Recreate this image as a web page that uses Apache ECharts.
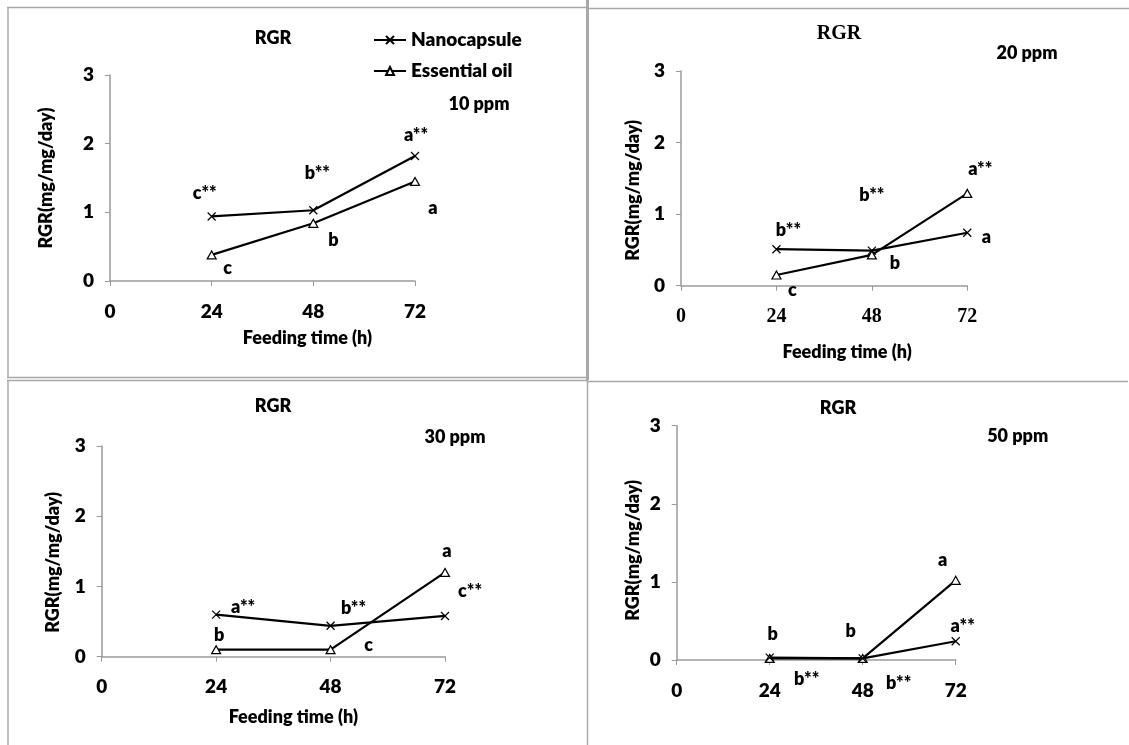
<!DOCTYPE html>
<html>
<head>
<meta charset="utf-8">
<script src="https://cdn.jsdelivr.net/npm/echarts@6/dist/echarts.min.js"></script>
<style>
html,body{margin:0;padding:0;background:#fff;}
#chart{width:1129px;height:745px;}
</style>
</head>
<body>
<div id="chart"></div>
<script>
// ---- data ----
const hours = [24, 48, 72];
const xTicks = [0, 24, 48, 72];
const yTicks = [0, 1, 2, 3];
const seriesNames = ['Nanocapsule', 'Essential oil'];
const panelTitles = ['RGR', 'RGR', 'RGR', 'RGR'];
const doseLabels = ['10 ppm', '20 ppm', '30 ppm', '50 ppm'];
const xAxisTitle = 'Feeding time (h)';
const yAxisTitle = 'RGR(mg/mg/day)';

const nano10 = [0.94, 1.03, 1.82];
const oil10  = [0.38, 0.84, 1.45];
const nano20 = [0.51, 0.49, 0.74];
const oil20  = [0.15, 0.43, 1.29];
const nano30 = [0.60, 0.44, 0.58];
const oil30  = [0.10, 0.10, 1.20];
const nano50 = [0.03, 0.02, 0.24];
const oil50  = [0.02, 0.02, 1.02];

const nano10Letters = ['c**', 'b**', 'a**'];
const oil10Letters  = ['c', 'b', 'a'];
const nano20Letters = ['b**', 'b**', 'a'];
const oil20Letters  = ['c', 'b', 'a**'];
const nano30Letters = ['a**', 'b**', 'c**'];
const oil30Letters  = ['b', 'c', 'a'];
const nano50Letters = ['b**', 'b**', 'a**'];
const oil50Letters  = ['b', 'b', 'a'];

// ---- layout / style ----
const FONT = 'Lato';
const SERIF = 'Liberation Serif';
const W = 800;
const AXIS_GRAY = '#9a9a9a';
const BORDER_GRAY = '#a8a8a8';
const FS_TICK = 19, FS_NAME = 18, FS_LET = 18, FS_TITLE = 18;

const panels = [
  { grid: {left: 110, top: 75, width: 305, height: 206},
    nano: nano10, oil: oil10, nanoL: nano10Letters, oilL: oil10Letters,
    nanoOff: [[-7,-23],[4,-37],[1,-21]], oilOff: [[16,13],[20,17],[18,27]],
    xFont: FONT, yNameGap: 55, yNamePad: [0,0,0,0], xName: true, xNameGap: 48, xNamePadL: 90,
    title: [273, 38], titleFont: FONT, dose: [479, 104] },
  { grid: {left: 681, top: 71, width: 286.3, height: 214.7},
    nano: nano20, oil: oil20, nanoL: nano20Letters, oilL: oil20Letters,
    nanoOff: [[12,-19],[0,-55],[19,4]], oilOff: [[16,15],[23,8],[13,-24]],
    xFont: SERIF, yNameGap: 39, yNamePad: [0,24,0,0], xName: true, xNameGap: 57, xNamePadL: 46,
    title: [839, 34], titleFont: SERIF, dose: [1027, 53] },
  { grid: {left: 101.7, top: 446, width: 343.3, height: 210.7},
    nano: nano30, oil: oil30, nanoL: nano30Letters, oilL: oil30Letters,
    nanoOff: [[27,-7],[23,-18],[25,-25]], oilOff: [[3,-14],[38,-4],[2,-21]],
    xFont: FONT, yNameGap: 40, yNamePad: [0,22,0,0], xName: true, xNameGap: 51, xNamePadL: 40,
    title: [273, 406], titleFont: FONT, dose: [455, 437] },
  { grid: {left: 676.7, top: 425.7, width: 279, height: 234.3},
    nano: nano50, oil: oil50, nanoL: nano50Letters, oilL: oil50Letters,
    nanoOff: [[37,22],[36,25],[7,-15]], oilOff: [[3,-24],[-12,-27],[-13,-20]],
    xFont: FONT, yNameGap: 35, yNamePad: [0,15,0,0], xName: false, xNameGap: 50, xNamePadL: 0,
    title: [838, 408], titleFont: FONT, dose: [1017.7, 436] }
];

const X_SYMBOL = 'path://M0,0L10,10M10,0L0,10';

const grids = [], xAxes = [], yAxes = [], series = [], graphics = [];

function makeData(vals, letters, offs) {
  return hours.map((h, i) => ({
    value: [h, vals[i]],
    label: {
      show: true, formatter: letters[i], position: 'inside', offset: offs[i],
      color: '#000', fontFamily: FONT, fontWeight: W, fontSize: FS_LET
    }
  }));
}

panels.forEach((p, k) => {
  grids.push(Object.assign({containLabel: false}, p.grid));
  xAxes.push({
    type: 'value', gridIndex: k, min: xTicks[0], max: xTicks[xTicks.length-1], interval: 24,
    name: p.xName ? xAxisTitle : '', nameLocation: 'middle', nameGap: p.xNameGap,
    nameTextStyle: {fontFamily: FONT, fontWeight: W, fontSize: FS_NAME, color: '#000', padding: [0,0,0,p.xNamePadL]},
    axisLine: {show: true, onZero: false, lineStyle: {color: AXIS_GRAY, width: 1.5}},
    axisTick: {show: true, length: 5, lineStyle: {color: AXIS_GRAY, width: 1}},
    axisLabel: {margin: 21, fontFamily: p.xFont, fontWeight: p.xFont === SERIF ? 'bold' : W, fontSize: p.xFont === SERIF ? 20 : FS_TICK, color: '#000'},
    splitLine: {show: false}
  });
  yAxes.push({
    type: 'value', gridIndex: k, min: yTicks[0], max: yTicks[yTicks.length-1], interval: 1,
    name: yAxisTitle, nameLocation: 'middle', nameRotate: 90, nameGap: p.yNameGap,
    nameTextStyle: {fontFamily: FONT, fontWeight: W, fontSize: FS_NAME, color: '#000', padding: p.yNamePad},
    axisLine: {show: true, lineStyle: {color: AXIS_GRAY, width: 1.5}},
    axisTick: {show: true, length: 5, lineStyle: {color: AXIS_GRAY, width: 1}},
    axisLabel: {margin: 16, fontFamily: FONT, fontWeight: W, fontSize: FS_TICK, color: '#000'},
    splitLine: {show: false}
  });
  series.push({
    name: seriesNames[0], type: 'line', xAxisIndex: k, yAxisIndex: k,
    data: makeData(p.nano, p.nanoL, p.nanoOff),
    symbol: X_SYMBOL, symbolSize: 8, showAllSymbol: true,
    lineStyle: {color: '#000', width: 2.2},
    itemStyle: {color: '#000', borderColor: '#000', borderWidth: 1.2},
    emphasis: {disabled: true}, z: 3
  });
  series.push({
    name: seriesNames[1], type: 'line', xAxisIndex: k, yAxisIndex: k,
    data: makeData(p.oil, p.oilL, p.oilOff),
    symbol: 'triangle', symbolSize: [9, 8], showAllSymbol: true,
    lineStyle: {color: '#000', width: 2.2},
    itemStyle: {color: '#fff', borderColor: '#000', borderWidth: 1.2},
    emphasis: {disabled: true}, z: 2
  });
  graphics.push({
    type: 'text', x: p.title[0], y: p.title[1],
    style: {text: panelTitles[k], fill: '#000',
      font: (p.titleFont === SERIF ? 'bold 20px "' : W + ' ' + FS_TITLE + 'px "') + p.titleFont + '"',
      textAlign: 'center', textVerticalAlign: 'middle'}
  });
  graphics.push({
    type: 'text', x: p.dose[0], y: p.dose[1],
    style: {text: doseLabels[k], fill: '#000', font: W + ' ' + FS_TITLE + 'px "' + FONT + '"',
      textAlign: 'center', textVerticalAlign: 'middle'}
  });
});

// panel borders
function hline(x1, x2, y, w) { graphics.push({type: 'line', shape: {x1: x1, y1: y, x2: x2, y2: y}, style: {stroke: BORDER_GRAY, lineWidth: w}, silent: true}); }
function vline(x, y1, y2, w) { graphics.push({type: 'line', shape: {x1: x, y1: y1, x2: x, y2: y2}, style: {stroke: BORDER_GRAY, lineWidth: w}, silent: true}); }
hline(7, 588, 7.5, 1.5);
vline(8, 7, 378, 1.5);
hline(7, 588, 377.5, 1.5);
vline(587.5, 0, 380, 3);
hline(588, 1129, 8.5, 1.5);
hline(7, 588, 380.5, 1.5);
vline(8, 380, 745, 1.5);
vline(587.5, 380, 745, 1.5);
hline(588, 1128, 381.5, 1.5);

const chart = echarts.init(document.getElementById('chart'), null, {renderer: 'canvas'});
chart.setOption({
  animation: false,
  backgroundColor: '#fff',
  legend: {
    data: seriesNames, orient: 'vertical', left: 368, top: 24, itemWidth: 32, itemHeight: 10, itemGap: 9,
    textStyle: {fontFamily: FONT, fontWeight: W, fontSize: 19, color: '#000', lineHeight: 22},
    selectedMode: false
  },
  grid: grids, xAxis: xAxes, yAxis: yAxes, series: series,
  graphic: graphics
});
</script>
</body>
</html>
